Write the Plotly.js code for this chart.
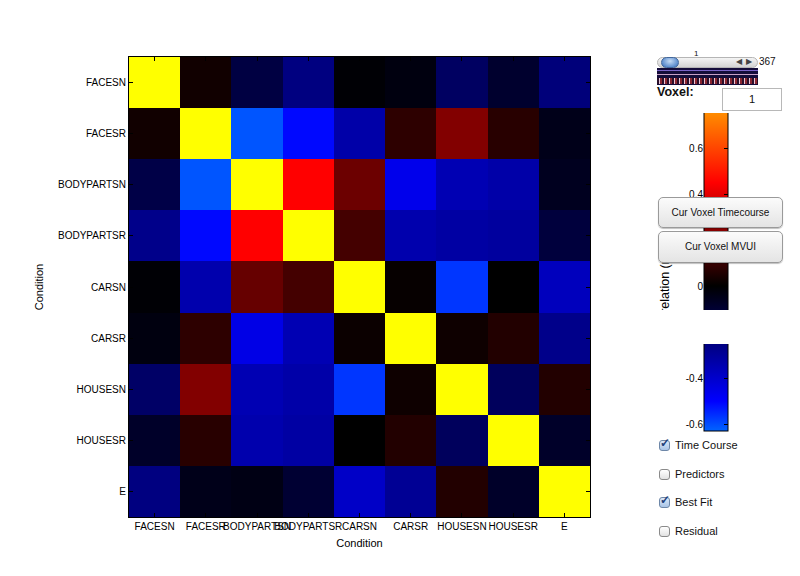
<!DOCTYPE html>
<html>
<head>
<meta charset="utf-8">
<script src="https://cdn.plot.ly/plotly-3.0.1.min.js"></script>
<style>
  html, body { margin:0; padding:0; background:#fff; }
  #wrap { position:relative; width:800px; height:576px; overflow:hidden; font-family:"Liberation Sans", Arial, sans-serif; }
  #plot { position:absolute; left:0; top:0; width:800px; height:576px; }
  .ov { position:absolute; z-index:10; }
  .btn { background:linear-gradient(#fbfbfb,#e4e4e4); border:1px solid #9a9a9a; border-radius:5px;
         box-shadow:0 1px 1px rgba(0,0,0,0.25); font-size:10px; color:#111; text-align:center; box-sizing:border-box; }
  .cb { width:11px; height:11px; border:1px solid #8a8a8a; border-radius:3px; box-sizing:border-box;
        background:linear-gradient(#fff,#e2e2e2); }
  .cb.on { background:linear-gradient(#dbe8f7,#a9c4e6); border-color:#6d87a8; }
  .cbl { font-size:11px; color:#111; }
</style>
</head>
<body>
<div id="wrap">
  <div id="plot"></div>

  <!-- white panel covering top part of colour bar -->
  <div class="ov" style="left:640px; top:30px; width:160px; height:83px; background:#fff;"></div>
  <!-- slider -->
  <div class="ov" style="left:694px; top:49px; font-size:8px; color:#111;">1</div>
  <div class="ov" style="left:657px; top:57px; width:101px; height:11px; border-radius:6px; background:linear-gradient(#f4f4f4,#d4d4d4); border:1px solid #b5b5b5; box-sizing:border-box;"></div>
  <div class="ov" style="left:661px; top:57px; width:18px; height:11px; border-radius:6px; background:radial-gradient(ellipse at 50% 35%, #c6dcf5, #5f8fcf 70%, #3e6cb0); border:1px solid #42689d; box-sizing:border-box;"></div>
  <div class="ov" style="left:736px; top:57px; font-size:8px; color:#444; letter-spacing:4px;">&#9664;&#9654;</div>
  <div class="ov" style="left:759px; top:56px; font-size:10px; color:#111;">367</div>
  <div class="ov" style="left:657px; top:68px; width:101px; height:17px;
       background:
         linear-gradient(to bottom, transparent 0, transparent 2px, #7a62c8 2px, #7a62c8 3px, transparent 3px, transparent 6px, #c9a0c8 6px, #c9a0c8 7px, transparent 7px),
         repeating-linear-gradient(to right, #2a0f2a 0, #2a0f2a 2px, #e5c6d8 2px, #e5c6d8 3px, #8a2530 3px, #8a2530 5px);
       background-size:100% 100%, 100% 6px; background-position:0 0, 0 10px; background-repeat:no-repeat, repeat-x;
       background-color:#140c3a;"></div>
  <div class="ov" style="left:657px; top:85px; font-size:12.5px; font-weight:bold; color:#111;">Voxel:</div>
  <div class="ov" style="left:722px; top:88px; width:60px; height:23px; border:1px solid #b8b8b8; background:#fff; box-sizing:border-box; font-size:11px; text-align:center; line-height:21px; color:#111;">1</div>

  <!-- buttons -->
  <div class="ov btn" style="left:658px; top:197px; width:125px; height:31px; line-height:29px;">Cur Voxel Timecourse</div>
  <div class="ov btn" style="left:658px; top:231px; width:125px; height:32px; line-height:30px;">Cur Voxel MVUI</div>

  <!-- gap in colour bar -->
  <div class="ov" style="left:655px; top:310px; width:90px; height:34px; background:#fff;"></div>

  <!-- checkboxes -->
  <div class="ov cb on" style="left:659px; top:440px;"></div>
  <div class="ov" style="left:660px; top:436px; font-size:12px; font-weight:bold; color:#1d3f7a;">&#10003;</div>
  <div class="ov cbl" style="left:675px; top:439px;">Time Course</div>
  <div class="ov cb" style="left:659px; top:469px;"></div>
  <div class="ov cbl" style="left:675px; top:468px;">Predictors</div>
  <div class="ov cb on" style="left:659px; top:497px;"></div>
  <div class="ov" style="left:660px; top:493px; font-size:12px; font-weight:bold; color:#1d3f7a;">&#10003;</div>
  <div class="ov cbl" style="left:675px; top:496px;">Best Fit</div>
  <div class="ov cb" style="left:659px; top:526px;"></div>
  <div class="ov cbl" style="left:675px; top:525px;">Residual</div>
</div>

<script>
// ---- data ----
const conditions = ["FACESN","FACESR","BODYPARTSN","BODYPARTSR","CARSN","CARSR","HOUSESN","HOUSESR","E"];

const rowFACESN     = [ 1.00,  0.03, -0.13, -0.25, -0.01, -0.03, -0.19, -0.09, -0.24];
const rowFACESR     = [ 0.03,  1.00, -0.61, -0.51, -0.33,  0.08,  0.23,  0.07, -0.05];
const rowBODYPARTSN = [-0.14, -0.61,  1.00,  0.45,  0.19, -0.46, -0.35, -0.33, -0.06];
const rowBODYPARTSR = [-0.27, -0.51,  0.45,  1.00,  0.12, -0.34, -0.32, -0.31, -0.12];
const rowCARSN      = [-0.01, -0.34,  0.18,  0.12,  1.00,  0.01, -0.57,  0.00, -0.37];
const rowCARSR      = [-0.03,  0.08, -0.45, -0.35,  0.02,  1.00,  0.025, 0.06, -0.27];
const rowHOUSESN    = [-0.20,  0.23, -0.35, -0.33, -0.57,  0.025, 1.00, -0.18,  0.06];
const rowHOUSESR    = [-0.08,  0.07, -0.34, -0.32,  0.00,  0.06, -0.18,  1.00, -0.08];
const rowE          = [-0.25, -0.05, -0.04, -0.10, -0.39, -0.29,  0.06, -0.08,  1.00];

const corrMatrix = [rowFACESN, rowFACESR, rowBODYPARTSN, rowBODYPARTSR, rowCARSN,
                    rowCARSR, rowHOUSESN, rowHOUSESR, rowE];

const colorbarTicks = [-0.6, -0.4, 0, 0.4, 0.6];
const colorbarTickText = ["-0.6", "-0.4", "0", "0.4", "0.6"];
const cmin = -0.63, cmax = 1.0;

// ---- colour map: light blue -> blue -> black -> red -> yellow ----
const t = v => (v - cmin) / (cmax - cmin);
const colorscale = [
  [0, "rgb(0,100,255)"],
  [t(-0.5), "rgb(0,0,255)"],
  [t(0), "rgb(0,0,0)"],
  [t(0.45), "rgb(255,0,0)"],
  [1, "rgb(255,255,0)"]
];

const W = 800, H = 576;
const font = {family: '"Liberation Sans", Arial, sans-serif', size: 10, color: '#000'};

const heat = {
  type: 'heatmap',
  x: conditions, y: conditions, z: corrMatrix,
  zmin: cmin, zmax: cmax, colorscale: colorscale,
  hoverinfo: 'skip',
  colorbar: {
    x: 704 / W, xanchor: 'left', xpad: 0,
    y: (H - 56) / H, yanchor: 'top', ypad: 0,
    lenmode: 'pixels', len: 375, thicknessmode: 'pixels', thickness: 24,
    outlinewidth: 1, outlinecolor: '#000',
    tickmode: 'array', tickvals: colorbarTicks, ticks: 'inside', ticklen: 4,
    tickcolor: '#000', showticklabels: false
  }
};

// invisible trace to host the colour bar's left-hand label axis
const cbAxis = {type: 'scatter', x: [], y: [], xaxis: 'x2', yaxis: 'y2', hoverinfo: 'skip', showlegend: false};

const layout = {
  width: W, height: H,
  margin: {l: 0, r: 0, t: 0, b: 0},
  paper_bgcolor: '#fff', plot_bgcolor: '#fff',
  font: font,
  showlegend: false,
  xaxis: {
    domain: [129 / W, 590 / W], anchor: 'y',
    showline: true, linecolor: '#000', linewidth: 1, mirror: 'all',
    ticks: 'inside', ticklen: 4, tickcolor: '#000', tickangle: 0,
    tickfont: font, showgrid: false, zeroline: false, fixedrange: true,
    title: {text: 'Condition', font: {family: font.family, size: 11, color: '#000'}, standoff: 8}
  },
  yaxis: {
    domain: [(H - 517) / H, (H - 57) / H], anchor: 'x',
    autorange: 'reversed',
    showline: true, linecolor: '#000', linewidth: 1, mirror: 'all',
    ticks: 'inside', ticklen: 4, tickcolor: '#000',
    tickfont: font, showgrid: false, zeroline: false, fixedrange: true,
    title: {text: 'Condition', font: {family: font.family, size: 11, color: '#000'}, standoff: 12}
  },
  xaxis2: {
    domain: [704 / W, 728 / W], anchor: 'y2', range: [0, 1],
    visible: false, fixedrange: true
  },
  yaxis2: {
    domain: [(H - 431) / H, (H - 56) / H], anchor: 'x2', side: 'left',
    range: [cmin, cmax], tickmode: 'array', tickvals: colorbarTicks, ticktext: colorbarTickText,
    ticks: '', showline: false, showgrid: false, zeroline: false,
    tickfont: font, fixedrange: true
  },
  annotations: [{
    text: 'Correlation (r)', xref: 'paper', yref: 'paper',
    x: 674 / W, y: (H - 295) / H, textangle: -90, showarrow: false,
    font: {family: font.family, size: 12.5, color: '#000'}
  }]
};

Plotly.newPlot('plot', [heat, cbAxis], layout, {displayModeBar: false, staticPlot: true});
</script>
</body>
</html>
